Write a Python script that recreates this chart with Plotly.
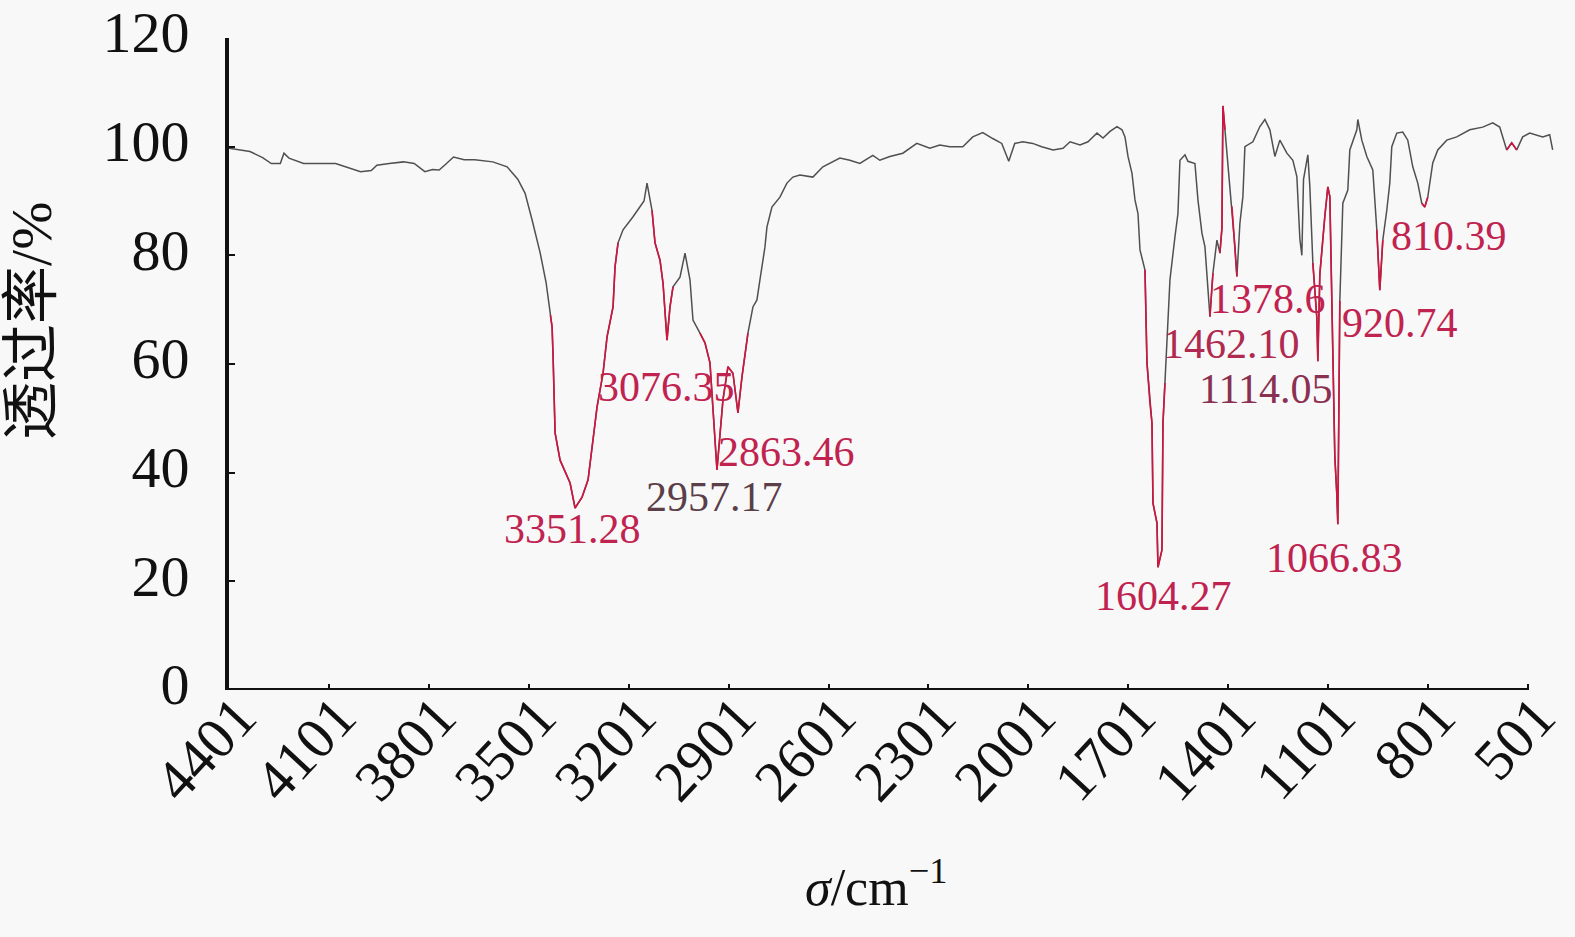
import plotly.graph_objects as go

# ---- data ----
wavenumber = [
    4401, 4338, 4300, 4274, 4247, 4236, 4221, 4177, 4081, 4049, 4006, 3974, 3957, 3920,
    3877, 3845, 3813, 3790, 3770, 3748, 3727, 3695, 3663, 3609, 3566, 3534, 3512, 3491,
    3467, 3449, 3436, 3431, 3428, 3422, 3407, 3377, 3362, 3341, 3323, 3308, 3296, 3278,
    3266, 3248, 3242, 3233, 3218, 3188, 3167, 3155, 3146, 3131, 3122, 3107, 3098, 3086,
    3077, 3068, 3047, 3032, 3017, 3008, 2987, 2972, 2957, 2942, 2936, 2918, 2903, 2888,
    2873, 2861, 2843, 2828, 2816, 2807, 2792, 2786, 2771, 2747, 2726, 2708, 2687, 2648,
    2618, 2567, 2537, 2507, 2468, 2447, 2417, 2378, 2336, 2297, 2267, 2237, 2198, 2168,
    2138, 2108, 2081, 2060, 2042, 2018, 1988, 1961, 1927, 1897, 1876, 1846, 1822, 1795,
    1777, 1756, 1735, 1720, 1711, 1702, 1690, 1681, 1672, 1666, 1651, 1645, 1636, 1630,
    1627, 1615, 1612, 1600, 1597, 1591, 1582, 1576, 1561, 1552, 1546, 1531, 1522, 1501,
    1492, 1480, 1471, 1456, 1447, 1435, 1426, 1420, 1417, 1411, 1402, 1390, 1381, 1375,
    1366, 1357, 1351, 1327, 1306, 1291, 1276, 1261, 1246, 1225, 1207, 1195, 1190, 1186,
    1180, 1175, 1162, 1156, 1147, 1135, 1132, 1126, 1111, 1102, 1096, 1090, 1081, 1075,
    1072, 1066, 1057, 1042, 1036, 1015, 1012, 1000, 985, 967, 955, 946, 937, 925,
    916, 910, 895, 877, 862, 847, 832, 820, 811, 802, 787, 772, 745, 715,
    676, 637, 607, 586, 565, 550, 535, 517, 496, 457, 436, 427,
]
transmittance = [
    99.7, 99.1, 98.0, 96.9, 96.9, 98.8, 97.9, 96.9, 96.9, 96.3, 95.4, 95.6, 96.6, 96.9,
    97.2, 96.9, 95.4, 95.8, 95.7, 96.9, 98.1, 97.6, 97.6, 97.2, 96.3, 94.0, 91.4, 86.5,
    80.5, 75.0, 69.0, 66.8, 61.3, 47.3, 42.3, 38.1, 33.5, 35.5, 38.7, 46.0, 52.1, 58.3,
    65.0, 70.5, 77.9, 82.3, 84.7, 87.1, 88.9, 90.0, 93.3, 88.3, 82.3, 79.1, 74.9, 64.4,
    70.5, 74.2, 76.0, 80.4, 75.5, 68.1, 65.7, 63.9, 60.2, 47.3, 40.5, 53.4, 59.5, 58.3,
    51.0, 57.6, 65.7, 70.5, 71.8, 75.5, 81.5, 85.2, 88.9, 90.7, 93.3, 94.4, 94.8, 94.4,
    96.3, 97.9, 97.5, 96.9, 98.4, 97.5, 98.2, 98.8, 100.6, 99.7, 100.3, 100.0, 100.0, 101.8,
    102.6, 101.5, 100.6, 97.3, 100.6, 100.9, 100.6, 100.0, 99.4, 99.7, 100.9, 100.3, 100.9, 102.5,
    101.6, 102.8, 103.7, 103.1, 101.8, 98.2, 95.1, 90.2, 87.7, 81.0, 77.3, 60.2, 52.8, 49.1,
    34.4, 30.7, 22.6, 25.8, 49.1, 56.5, 69.9, 75.5, 83.4, 87.7, 97.5, 98.5, 97.3, 96.9,
    90.2, 84.1, 81.6, 68.7, 76.7, 82.8, 80.4, 85.0, 107.5, 103.1, 96.3, 89.0, 81.6, 76.1,
    85.9, 90.8, 100.0, 100.9, 103.7, 105.0, 103.1, 98.2, 101.2, 98.8, 97.5, 94.5, 86.0, 83.0,
    80.0, 94.0, 98.5, 92.6, 78.6, 68.5, 60.5, 76.5, 87.2, 92.6, 90.8, 73.6, 42.9, 36.0,
    30.5, 71.6, 89.6, 92.0, 99.4, 103.1, 105.0, 101.2, 98.2, 95.7, 84.7, 73.6, 82.8, 88.3,
    93.3, 100.0, 102.5, 102.7, 101.2, 96.3, 93.3, 89.6, 88.9, 90.7, 97.0, 99.4, 101.2, 101.8,
    103.1, 103.6, 104.4, 103.6, 99.4, 100.7, 99.4, 101.8, 102.5, 101.8, 102.2, 99.4,
]

# wavenumber ranges where the trace is drawn in red in the reference
red_ranges = [(3440, 3230), (3140, 3060), (3000, 2840), (1660, 1590), (1470, 1440),
              (1428, 1408), (1395, 1368), (1150, 1060), (960, 930), (830, 800), (570, 530)]

peak_labels = ["3351.28", "3076.35", "2957.17", "2863.46", "1604.27", "1462.10",
               "1378.6", "1114.05", "1066.83", "920.74", "810.39"]
label_x = [3370, 3089, 2942, 2726, 1594, 1390, 1282, 1288, 1081, 886, 739]
label_y = [29.6, 55.8, 35.5, 43.8, 17.3, 63.7, 72.0, 55.4, 24.3, 67.5, 83.6]
label_colors = ["#c0234f", "#c0234f", "#5a3e48", "#c0234f", "#c0234f", "#b02a50",
                "#c0234f", "#8a3050", "#c0234f", "#c0234f", "#c0234f"]

x_ticks = [4401, 4101, 3801, 3501, 3201, 2901, 2601, 2301, 2001, 1701, 1401, 1101, 801, 501]
y_ticks = [0, 20, 40, 60, 80, 100, 120]

SERIF = "Liberation Serif, Times New Roman, Noto Sans CJK SC, serif"
BG = "#f8f8f8"

red_y = [t if any(lo <= w <= hi for hi, lo in red_ranges) else None
         for w, t in zip(wavenumber, transmittance)]

fig = go.Figure()
fig.add_trace(go.Scatter(x=wavenumber, y=transmittance, mode="lines",
                         line=dict(color="#505050", width=1.5), hoverinfo="skip",
                         showlegend=False))
fig.add_trace(go.Scatter(x=wavenumber, y=red_y, mode="lines",
                         line=dict(color="#d0143f", width=1.6), connectgaps=False,
                         hoverinfo="skip", showlegend=False))

for txt, lx, ly, c in zip(peak_labels, label_x, label_y, label_colors):
    fig.add_annotation(x=lx, y=ly, xref="x", yref="y", text=txt, showarrow=False,
                       xanchor="center", yanchor="middle",
                       font=dict(family=SERIF, size=42, color=c))

# x axis line ends at the last labelled tick
fig.add_shape(type="line", xref="x", yref="y", x0=x_ticks[0], x1=x_ticks[-1], y0=0, y1=0,
              line=dict(color="#111111", width=4), layer="above")

fig.add_annotation(xref="paper", yref="paper", x=0.488, y=-0.2975,
                   text="<i>σ</i>/cm<sup>−1</sup>", showarrow=False,
                   xanchor="center", yanchor="middle",
                   font=dict(family=SERIF, size=52, color="#111111"))
fig.add_annotation(xref="paper", yref="paper", x=-0.1486, y=0.566,
                   text="透过率/%", showarrow=False, textangle=-90,
                   xanchor="center", yanchor="middle",
                   font=dict(family=SERIF, size=58, color="#111111"))

fig.update_layout(
    width=1575, height=937,
    margin=dict(l=229, r=20, t=38, b=247, autoexpand=False),
    paper_bgcolor=BG, plot_bgcolor=BG,
    font=dict(family=SERIF, color="#111111"),
    xaxis=dict(range=[4401, 420], tickvals=x_ticks, ticktext=[str(v) for v in x_ticks],
               tickangle=-47, ticks="inside", ticklen=6, tickwidth=2, tickcolor="#111111",
               showline=False, showgrid=False, zeroline=False, automargin=False,
               tickfont=dict(family=SERIF, size=58, color="#111111"),
               ticklabelstandoff=-20, ticklabelshift=-9),
    yaxis=dict(range=[0, 120], tickvals=y_ticks, ticks="inside", ticklen=6, tickwidth=2,
               tickcolor="#111111", showline=True, linecolor="#111111", linewidth=4,
               showgrid=False, zeroline=False, automargin=False,
               tickfont=dict(family=SERIF, size=58, color="#111111"),
               ticklabelstandoff=24, ticklabelshift=-6),
)

fig.write_html("out.html", config={"displayModeBar": False},
               post_script="document.body.style.margin='0';document.body.style.overflow='hidden';")
